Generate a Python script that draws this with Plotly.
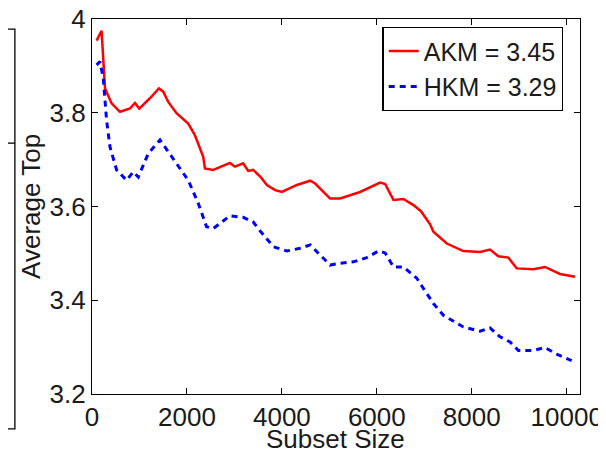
import plotly.graph_objects as go

akm_x = [97, 202, 274, 413, 589, 800, 905, 996, 1221, 1410, 1501, 1606, 1781, 2027, 2168, 2343,
         2379, 2554, 2905, 3011, 3185, 3291, 3396, 3560, 3684, 3859, 4000, 4316, 4596, 4701, 5017,
         5227, 5648, 6069, 6175, 6350, 6561, 6771, 6930, 7122, 7192, 7474, 7823, 8175, 8385, 8560,
         8771, 8947, 9297, 9543, 9859, 10175]
akm_y = [3.954, 3.975, 3.852, 3.820, 3.802, 3.809, 3.821, 3.809, 3.831, 3.852, 3.845, 3.823, 3.799,
         3.777, 3.752, 3.706, 3.681, 3.678, 3.693, 3.685, 3.692, 3.676, 3.678, 3.662, 3.646, 3.635,
         3.631, 3.646, 3.655, 3.649, 3.617, 3.617, 3.631, 3.651, 3.648, 3.614, 3.616, 3.603, 3.590,
         3.562, 3.546, 3.521, 3.505, 3.503, 3.508, 3.494, 3.491, 3.468, 3.466, 3.471, 3.456, 3.450]

hkm_x = [97, 168, 238, 307, 379, 518, 728, 869, 975, 1185, 1432, 1606, 1781, 2027, 2238, 2413,
         2554, 2905, 3185, 3396, 3557, 3824, 4105, 4385, 4596, 4771, 5017, 5227, 5508, 5789, 6034,
         6175, 6350, 6561, 6842, 6950, 7192, 7402, 7823, 8175, 8385, 8596, 8806, 8981, 9297, 9543,
         9789, 10105]
hkm_y = [3.902, 3.909, 3.873, 3.784, 3.727, 3.678, 3.656, 3.674, 3.663, 3.713, 3.742, 3.717, 3.692,
         3.656, 3.607, 3.557, 3.553, 3.580, 3.577, 3.567, 3.546, 3.514, 3.505, 3.511, 3.518, 3.500,
         3.475, 3.479, 3.482, 3.491, 3.505, 3.501, 3.471, 3.471, 3.447, 3.430, 3.393, 3.368, 3.343,
         3.334, 3.341, 3.322, 3.311, 3.293, 3.293, 3.299, 3.285, 3.271]

x_ticks = [0, 2000, 4000, 6000, 8000, 10000]
x_tick_text = ["0", "2000", "4000", "6000", "8000", "10000"]
y_ticks = [3.2, 3.4, 3.6, 3.8, 4]
y_tick_text = ["3.2", "3.4", "3.6", "3.8", "4"]

FONT = "Liberation Sans, Arial, sans-serif"
TXT = "#1a1a1a"
FS = 26

fig = go.Figure()
fig.add_trace(go.Scatter(x=akm_x, y=akm_y, mode="lines", name="AKM = 3.45",
                         line=dict(color="#ff0000", width=2.5)))
fig.add_trace(go.Scatter(x=hkm_x, y=hkm_y, mode="lines", name="HKM = 3.29",
                         line=dict(color="#0000ff", width=3, dash="6px,5px")))

axis_common = dict(showgrid=False, zeroline=False, showline=True, linecolor="black",
                   linewidth=1.3, mirror="ticks", ticks="inside", ticklen=6,
                   tickcolor="black", tickwidth=1.3, automargin=False,
                   ticklabeloverflow="allow",
                   tickfont=dict(family=FONT, size=FS, color=TXT))

fig.update_xaxes(range=[0, 10280], tickvals=x_ticks, ticktext=x_tick_text, **axis_common)
fig.update_yaxes(range=[3.2, 4.0], tickvals=y_ticks, ticktext=y_tick_text, **axis_common)

# axis titles
fig.add_annotation(text="Average Top", xref="paper", yref="paper", x=-0.125, y=0.499,
                   textangle=-90, showarrow=False, xanchor="center", yanchor="middle",
                   font=dict(family=FONT, size=FS, color=TXT))
fig.add_annotation(text="Subset Size", xref="paper", yref="paper", x=0.498, y=-0.12,
                   showarrow=False, xanchor="center", yanchor="middle",
                   font=dict(family=FONT, size=FS, color=TXT))

# partial frame of the neighbouring panel at the left edge
fig.add_shape(type="path", xref="paper", yref="paper",
              path="M -0.2,0.973 L -0.158,0.973 L -0.158,-0.093 L -0.2,-0.093",
              line=dict(color="black", width=1.3))
fig.add_shape(type="line", xref="paper", yref="paper",
              x0=-0.2, x1=-0.158, y0=0.669, y1=0.669,
              line=dict(color="black", width=1.3))

fig.update_layout(
    width=598, height=446,
    margin=dict(l=84, r=26, t=11, b=60),
    plot_bgcolor="white", paper_bgcolor="white",
    font=dict(family=FONT, size=FS, color=TXT),
    legend=dict(x=0.966, y=0.979, xanchor="right", yanchor="top",
                bgcolor="white", bordercolor="black", borderwidth=1.3,
                font=dict(family=FONT, size=25, color=TXT),
                tracegroupgap=0, itemwidth=30),
    showlegend=True,
)

fig.write_html("out.html")
